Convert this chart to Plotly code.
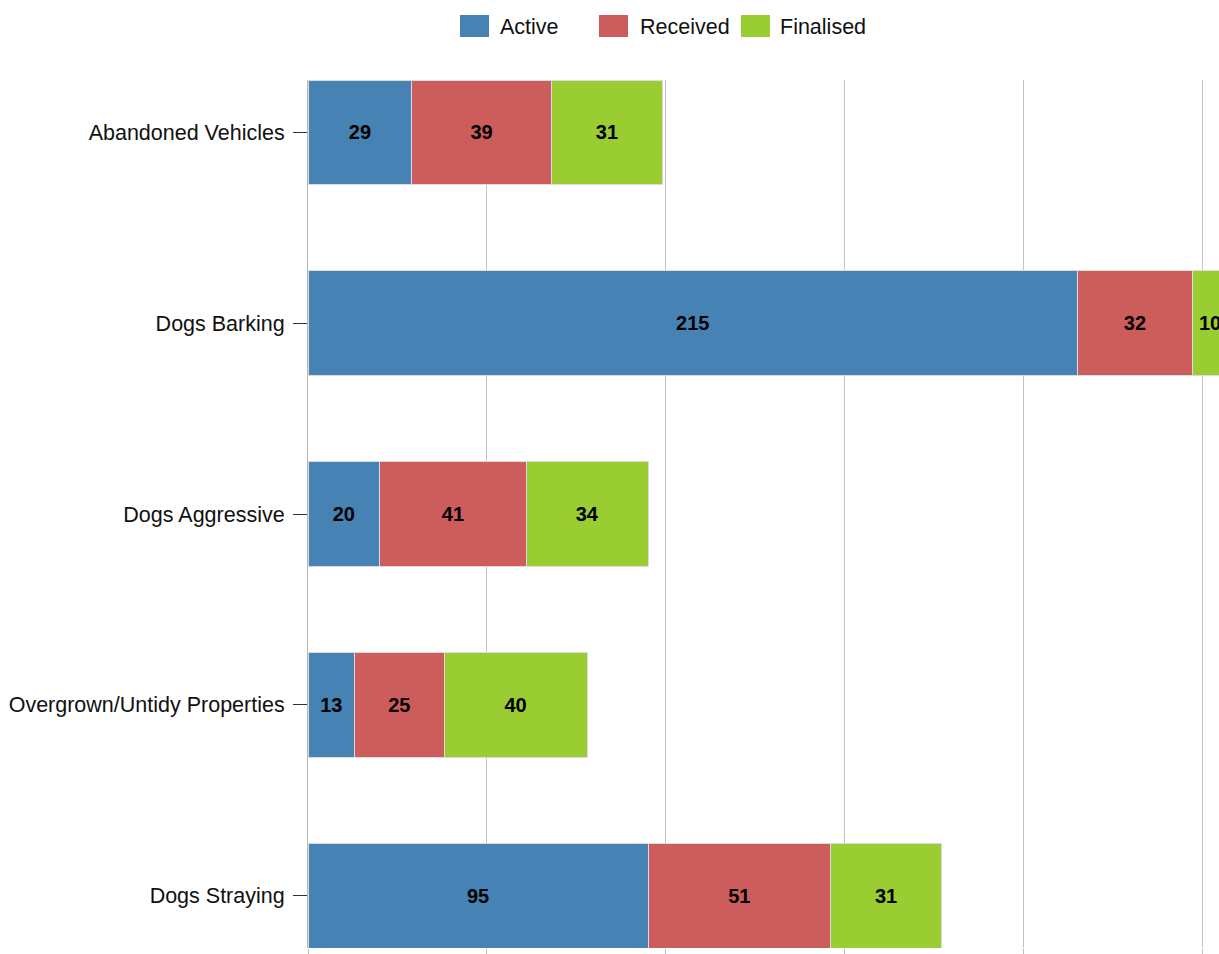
import plotly.graph_objects as go

# Data
categories = ["Abandoned Vehicles", "Dogs Barking", "Dogs Aggressive",
              "Overgrown/Untidy Properties", "Dogs Straying"]
active = [29, 215, 20, 13, 95]
received = [39, 32, 41, 25, 51]
finalised = [31, 10, 34, 40, 31]

series = [("Active", active, "#4682B4"),
          ("Received", received, "#CD5C5C"),
          ("Finalised", finalised, "#9ACD32")]

FONT = "Liberation Sans, Arial, sans-serif"
W, H = 1219, 954
L, R, T, B = 308, 0, 80, 6

fig = go.Figure()
for name, vals, color in series:
    fig.add_trace(go.Bar(
        name=name, y=categories, x=vals, orientation="h",
        marker=dict(color=color, line=dict(color="#dcdcdc", width=1)),
        width=0.55,
        text=vals, textposition="inside", insidetextanchor="middle",
        textangle=0, constraintext="none",
        textfont=dict(family=FONT, size=20, color="black", weight="bold"),
        showlegend=False,
    ))


# --- manual legend (bigger swatches than plotly draws) ---
def px_x(p):
    return (p - L) / (W - L - R)


def px_y(p):
    return (H - B - p) / (H - T - B)


legend_items = [("Active", "#4682B4", 460, 498),
                ("Received", "#CD5C5C", 599, 638),
                ("Finalised", "#9ACD32", 741, 778)]
for label, color, sx, tx in legend_items:
    fig.add_shape(type="rect", xref="paper", yref="paper",
                  x0=px_x(sx), x1=px_x(sx + 29), y0=px_y(37), y1=px_y(15),
                  fillcolor=color, line=dict(width=0))
    fig.add_annotation(xref="paper", yref="paper", x=px_x(tx), y=px_y(27),
                       text=label, showarrow=False, xanchor="left", yanchor="middle",
                       font=dict(family=FONT, size=21.5, color="#111"))

fig.update_layout(
    barmode="stack",
    width=W, height=H,
    margin=dict(l=L, r=R, t=T, b=B),
    plot_bgcolor="white", paper_bgcolor="white",
    font=dict(family=FONT, size=21.5, color="#111"),
    xaxis=dict(range=[0, 254.5], dtick=50, showgrid=True, gridcolor="#c4c4c4",
               gridwidth=1, zeroline=False, showline=False,
               ticks="outside", ticklen=6, tickcolor="#bbbbbb",
               showticklabels=False),
    yaxis=dict(type="category", categoryorder="array", categoryarray=categories,
               range=[4.275, -0.275], showline=True, linecolor="#b4b4b4", linewidth=1,
               ticks="outside", ticklen=14, tickcolor="#333", ticklabelstandoff=4,
               showgrid=False, tickfont=dict(family=FONT, size=21.5, color="#111")),
)

# drop the default 8px page margin and scrollbars so the figure fills the window
page_css = ("document.body.style.margin='0';"
            "document.body.style.overflow='hidden';"
            "document.documentElement.style.overflow='hidden';")
fig.write_html("out.html", post_script=page_css, config={"displayModeBar": False})
